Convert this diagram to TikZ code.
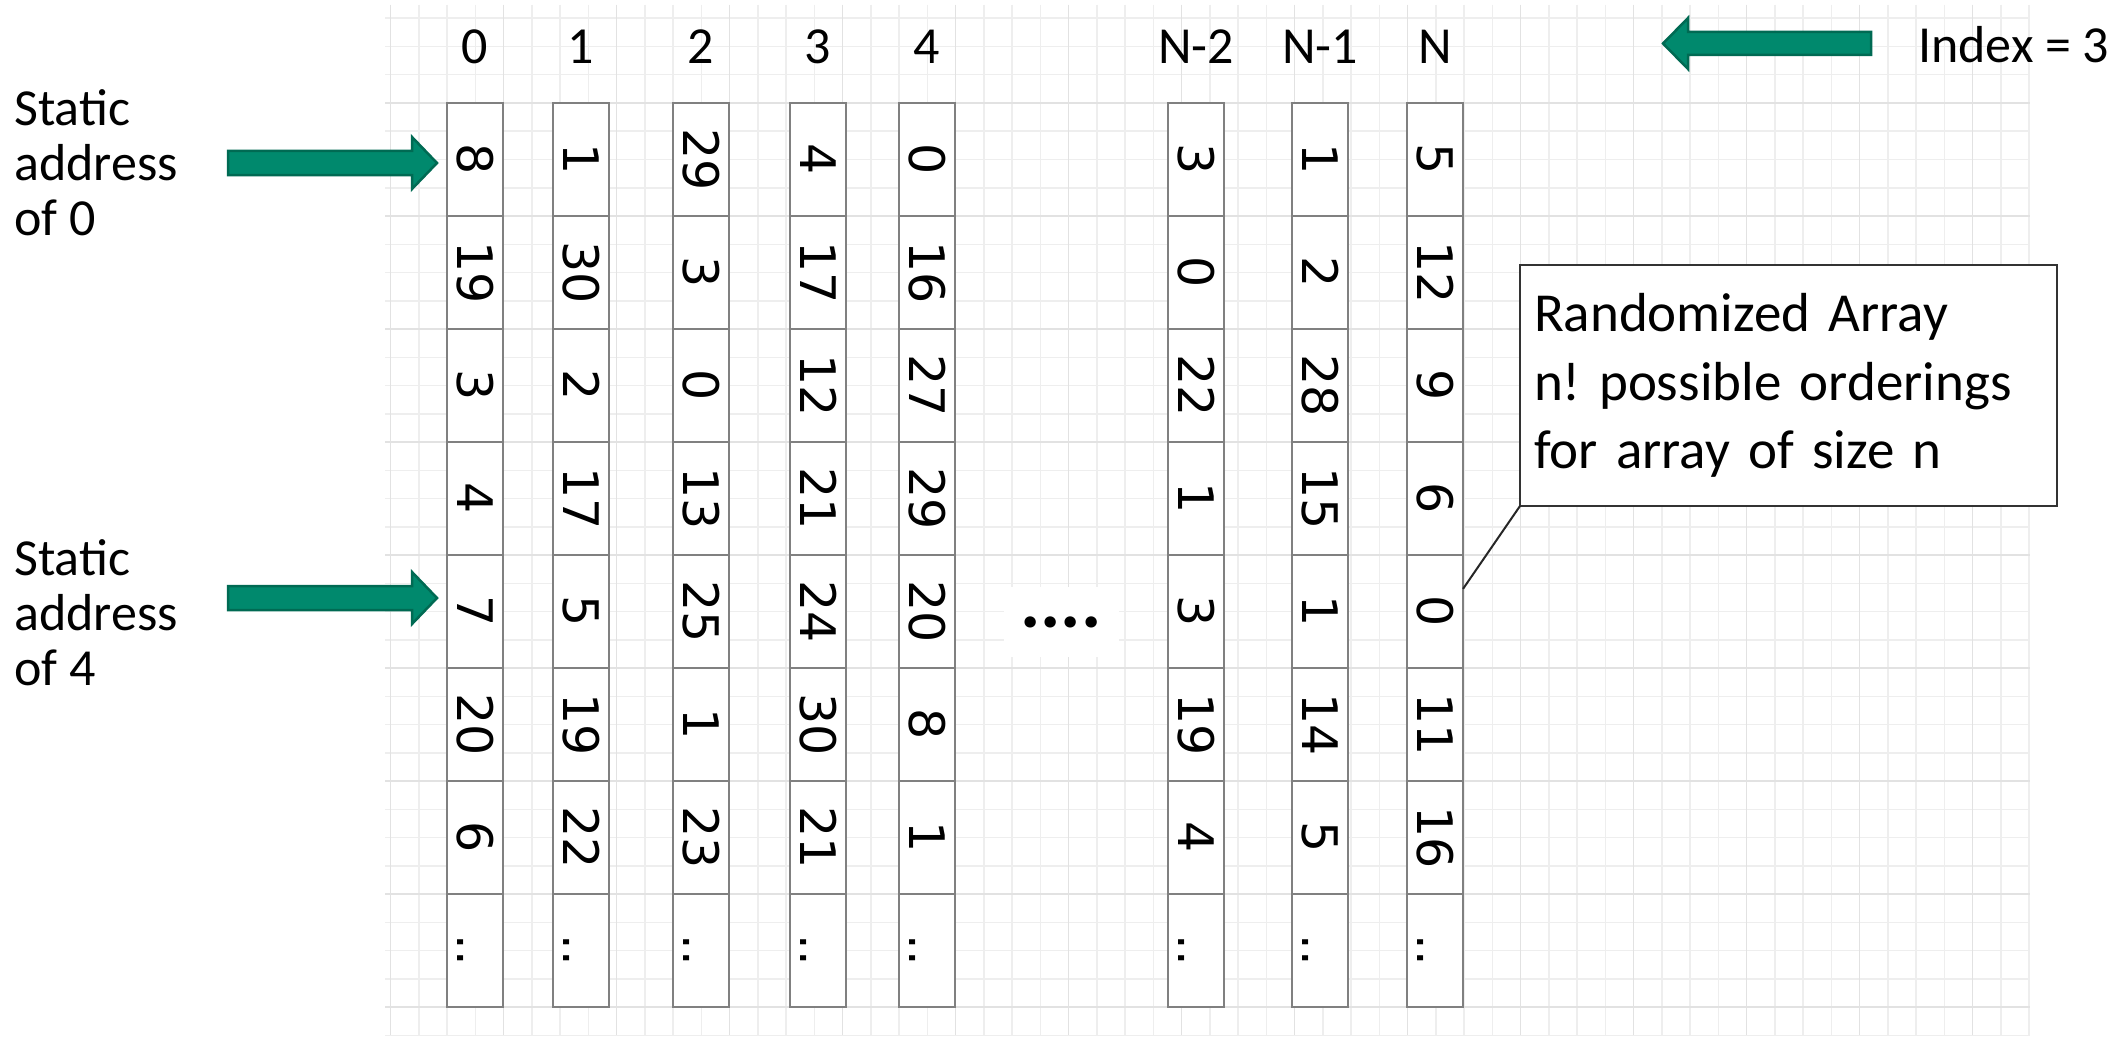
\documentclass[tikz,border=0pt]{standalone}
\usepackage{fontspec}
\setmainfont{Carlito}
\newfontfamily\dvs{DejaVu Sans}
\usetikzlibrary{calc}
\definecolor{tealfill}{HTML}{00896D}
\definecolor{tealedge}{HTML}{006A53}
\definecolor{gridminor}{HTML}{EEEEEE}
\definecolor{gridmajor}{HTML}{E2E2E2}
\definecolor{cellline}{HTML}{808080}
\frenchspacing
\begin{document}
\begin{tikzpicture}[x=1pt,y=-1pt,
  cell/.style={draw=cellline, line width=2pt, fill=white, minimum width=56pt, minimum height=113pt, inner sep=0pt, outer sep=0pt},
  cellnum/.style={font={\dvs\fontsize{49}{49}\selectfont}, rotate=-90, inner sep=0pt},
  header/.style={font={\fontsize{52}{52}\selectfont}, inner sep=0pt},
  sidelabel/.style={font={\fontsize{52}{55}\selectfont}, align=left, inner sep=0pt},
  blockarrow/.style={fill=tealfill, draw=tealedge, line width=2.5pt, line join=miter},
]
\fill[white] (0,0) rectangle (2126,1038);
\useasboundingbox (0,0) rectangle (2126,1038);
% background grid
\begin{scope}
\clip (385,5) rectangle (2030,1035);
\foreach \k in {0,...,58} {\draw[gridminor, line width=1.5pt] (390.5+28.25*\k,5) -- ++(0,1030);}
\foreach \k in {-3,...,33} {\draw[gridminor, line width=1.5pt] (385,103+28.25*\k) -- ++(1645,0);}
\foreach \k in {0,4,...,56} {\draw[gridmajor, line width=1.5pt] (390.5+28.25*\k,5) -- ++(0,1030);}
\foreach \k in {0,4,...,32} {\draw[gridmajor, line width=1.5pt] (385,103+28.25*\k) -- ++(1645,0);}
\end{scope}
% columns
\foreach \cx/\nm/\hd/\vals in {
  475/a/0/{8,19,3,4,7,20,6},
  581/b/1/{1,30,2,17,5,19,22},
  701/c/2/{29,3,0,13,25,1,23},
  818/d/3/{4,17,12,21,24,30,21},
  927/e/4/{0,16,27,29,20,8,1},
  1196/x/N-2/{3,0,22,1,3,19,4},
  1320/y/N-1/{1,2,28,15,1,14,5},
  1435/n/N/{5,12,9,6,0,11,16}} {
  \node[header] (h\nm) at (\cx,47) {\hd};
  \foreach \v [count=\r] in \vals {
    \node[cell] (c\nm\r) at (\cx,46.5+113*\r) {};
    \node[cellnum] (t\nm\r) at (c\nm\r) {\vphantom{0}\v};
  }
  \node[cell] (c\nm8) at (\cx,46.5+113*8) {};
  \node[cellnum] (t\nm8) at (c\nm8) {\vphantom{0}..};
}
% gap dots
\node[fill=white, minimum width=115pt, minimum height=70pt, inner sep=0pt, font={\bfseries\fontsize{76}{76}\selectfont}] (dots) at (1061,622) {....};
% left labels and arrows
\node[sidelabel, anchor=west] (s0) at (14,163) {Static\\address\\of 0};
\node[sidelabel, anchor=west] (s4) at (14,613) {Static\\address\\of 4};
\path[blockarrow] (228,151) -- (412,151) -- (412,137) -- (437,163) -- (412,189) -- (412,175) -- (228,175) -- cycle;
\path[blockarrow] (228,586) -- (412,586) -- (412,572) -- (437,598) -- (412,624) -- (412,610) -- (228,610) -- cycle;
% index
\node[header, anchor=west] (idx) at (1918,45) {Index = 3};
\path[blockarrow] (1871,32) -- (1688,32) -- (1688,18) -- (1663,43.5) -- (1688,69) -- (1688,55) -- (1871,55) -- cycle;
% callout
\node[draw=black!80, line width=2.5pt, fill=white, outer sep=0pt, minimum width=537pt, minimum height=241pt, text width=509pt, inner xsep=14pt, align=left, font={\fontsize{55}{68.5}\selectfont}] (callout) at (1788.5,385.5) {Randomized Array\\n! possible orderings\\for array of size n};
\coordinate (ptr) at ($(cn5.north east)!0.3!(cn5.south east)$);
\draw[line width=2pt, black!85] (callout.south west) -- (ptr);
\end{tikzpicture}
\end{document}
